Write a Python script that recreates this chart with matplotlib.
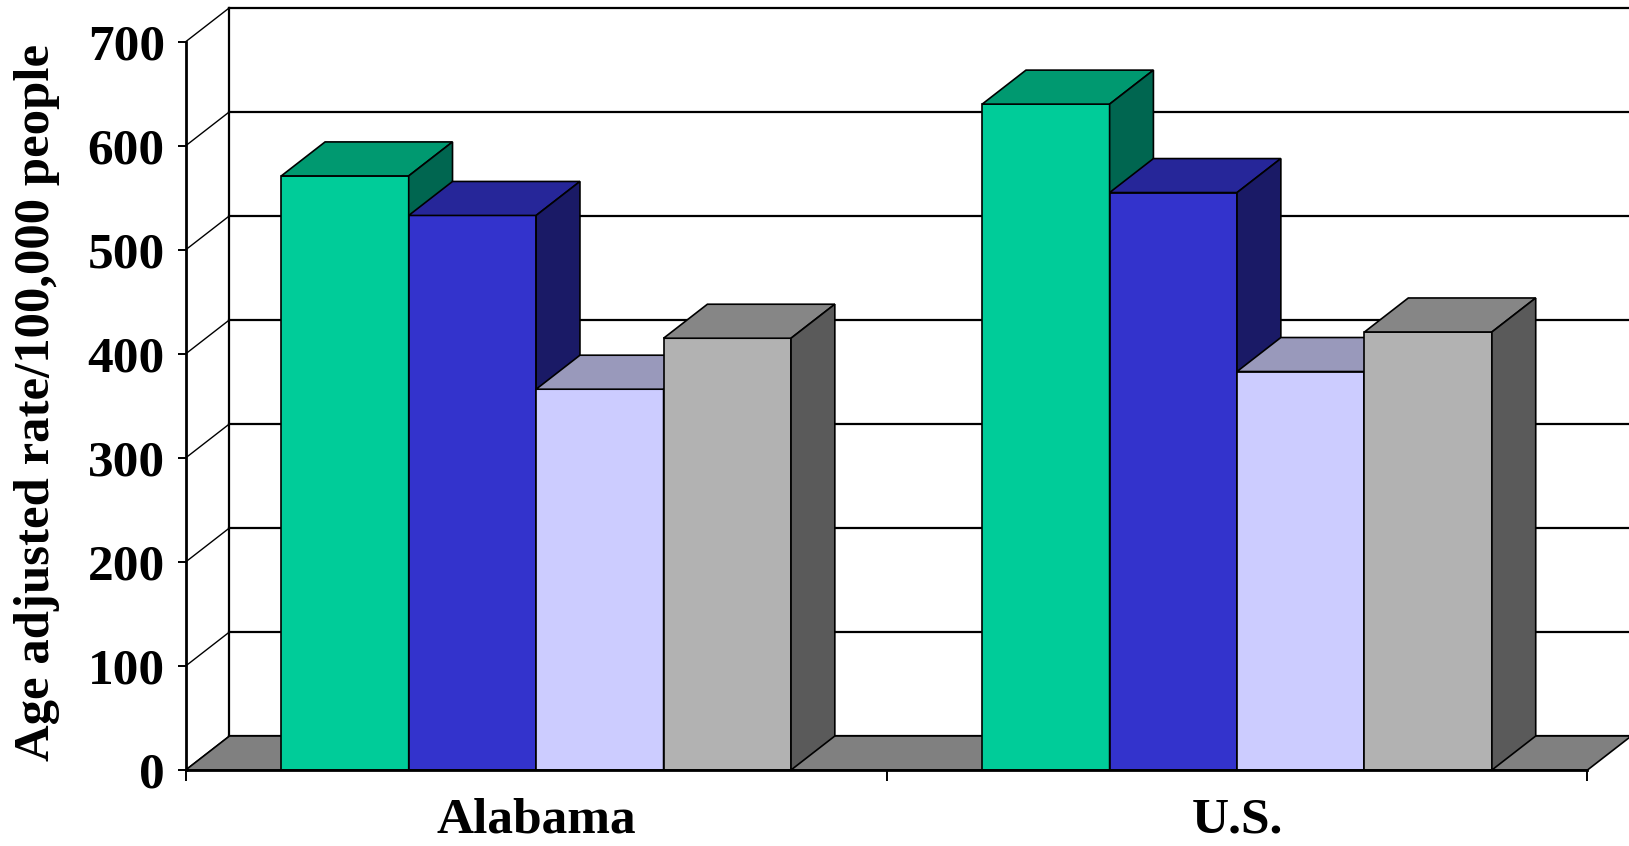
import matplotlib.pyplot as plt
from matplotlib.patches import Polygon

categories = ["Alabama", "U.S."]
series_values = [
    [571, 640],   # green
    [533, 555],   # blue
    [366, 383],   # lavender
    [415, 421],   # gray
]
y_ticks = [0, 100, 200, 300, 400, 500, 600, 700]

# front, top, side colours per series
face_colors = [
    ("#00CC99", "#009970", "#006650"),
    ("#3333CC", "#262699", "#1A1A66"),
    ("#CCCCFF", "#9999BB", "#666680"),
    ("#B2B2B2", "#868686", "#5A5A5A"),
]

W, H = 1629, 846
fig = plt.figure(figsize=(W / 100, H / 100), dpi=100)

# front plane of the plot in pixels
x0_px, x1_px = 185.7, 1587.5
y0_px, y700_px = 770.0, 41.7
ax = fig.add_axes([x0_px / W, (H - y0_px) / H,
                   (x1_px - x0_px) / W, (y0_px - y700_px) / H])
ax.set_xlim(0, 2)
ax.set_ylim(0, 700)
ax.patch.set_visible(False)

# depth offset (oblique projection) in data units
dx = 43.8 / ((x1_px - x0_px) / 2)
dy = 34.0 / ((y0_px - y700_px) / 700)

lw_grid = 1.6
lw_edge = 1.2


def poly(pts, fc, ec="black", lw=lw_edge, z=2):
    p = Polygon(pts, closed=True, facecolor=fc, edgecolor=ec,
                linewidth=lw, transform=ax.transData, clip_on=False,
                zorder=z, joinstyle="miter")
    ax.add_patch(p)


# back wall gridlines and side wall
for v in y_ticks:
    ax.plot([dx, 2 + dx], [v + dy, v + dy], color="black", lw=lw_grid,
            clip_on=False, zorder=1)
    ax.plot([0, dx], [v, v + dy], color="black", lw=1.0,
            clip_on=False, zorder=1)
ax.plot([dx, dx], [dy, 700 + dy], color="black", lw=lw_grid,
        clip_on=False, zorder=1)

# floor
poly([(0, 0), (2, 0), (2 + dx, dy), (dx, dy)], "#808080", z=1.5)

# bars
n = len(series_values)
bw = 1 / (n + 1.5)
for ci in range(len(categories)):
    start = ci + 0.75 * bw
    for si in range(n):
        v = series_values[si][ci]
        xl = start + si * bw
        xr = xl + bw
        front, top, side = face_colors[si]
        poly([(xl, 0), (xr, 0), (xr, v), (xl, v)], front, z=3)
        poly([(xl, v), (xr, v), (xr + dx, v + dy), (xl + dx, v + dy)], top, z=3)
        poly([(xr, 0), (xr + dx, dy), (xr + dx, v + dy), (xr, v)], side, z=3)

# axes styling
for s in ["top", "right"]:
    ax.spines[s].set_visible(False)
for s in ["left", "bottom"]:
    ax.spines[s].set_linewidth(2.0)
    ax.spines[s].set_zorder(5)

ax.set_yticks(y_ticks)
ax.set_yticklabels([str(t) for t in y_ticks])
ax.tick_params(axis="y", direction="out", length=6, width=1.4, pad=9)
ax.set_xticks([0, 1, 2])
ax.set_xticklabels([])
ax.tick_params(axis="x", which="major", direction="out", length=8, width=1.4)
ax.set_xticks([0.5, 1.5], minor=True)
ax.set_xticklabels(categories, minor=True)
ax.tick_params(axis="x", which="minor", length=0, pad=20)

for lab in ax.get_yticklabels() + ax.get_xticklabels(minor=True):
    lab.set_fontfamily("Liberation Serif")
    lab.set_fontweight("bold")
    lab.set_fontsize(37)

fig.text(37 / W, 1 - 402.6 / H, "Age adjusted rate/100,000 people",
         rotation=90, ha="center", va="center", fontsize=36.5,
         fontfamily="Liberation Serif", fontweight="bold")

fig.savefig("out.png", dpi=100)
